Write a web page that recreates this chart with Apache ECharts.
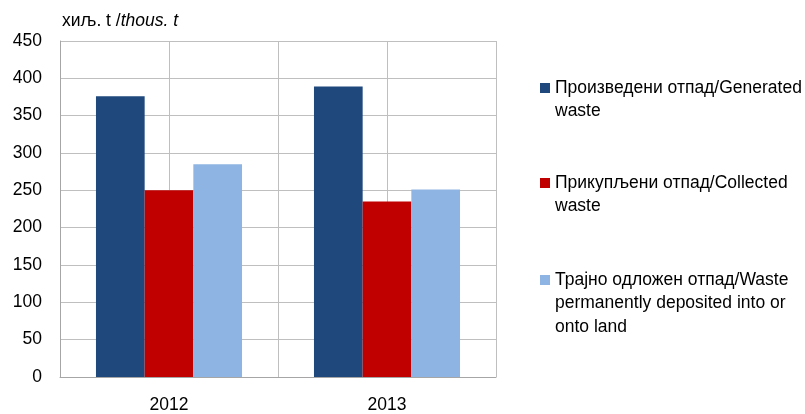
<!DOCTYPE html>
<html><head><meta charset="utf-8">
<script src="https://cdn.jsdelivr.net/npm/echarts@6/dist/echarts.min.js"></script>
<style>html,body{margin:0;padding:0;background:#fff}#c{width:805px;height:414px}</style>
</head><body><div id="c"></div>
<script>
const categories = ['2012', '2013'];
const seriesNames = ['Произведени отпад/Generated\nwaste', 'Прикупљени отпад/Collected\nwaste', 'Трајно одложен отпад/Waste\npermanently deposited into or\nonto land'];
const generated = [376, 389];
const collected = [250, 235];
const deposited = [285, 251];
const colors = ['#1F497D', '#C00000', '#8EB4E3'];
const values = [generated, collected, deposited];
const yTicks = { min: 0, max: 450, interval: 50 };

const chart = echarts.init(document.getElementById('c'));
const font = 'Liberation Sans, Arial, sans-serif';
const fs = 17.5;
const lh = 23.5;
const legendCenters = [88, 183, 280];
const legendTextX = 555;
const legends = seriesNames.map((n, i) => ({
  data: [n], orient: 'vertical', left: 540, top: legendCenters[i] - 10, padding: 0,
  itemWidth: 10, itemHeight: 10, itemGap: 0,
  icon: 'rect', selectedMode: false,
  formatter: name => name.split('\n')[0],
  textStyle: { fontFamily: font, fontSize: fs, color: '#000', lineHeight: 20 }
}));
const graphics = [];
seriesNames.forEach((n, i) => {
  n.split('\n').slice(1).forEach((line, k) => {
    graphics.push({ type: 'text', left: legendTextX, top: legendCenters[i] + lh * (k + 1) - 10,
      style: { text: line, fontFamily: font, fontSize: fs, fill: '#000', lineHeight: 20 } });
  });
});
chart.setOption({
  animation: false,
  textStyle: { fontFamily: font },
  title: {
    left: 62, top: 12, padding: 0,
    text: '{a|хиљ. t /}{b|thous. t}',
    textStyle: { fontWeight: 'normal', rich: {
      a: { fontFamily: font, fontSize: fs, color: '#000', fontWeight: 'normal' },
      b: { fontFamily: font, fontSize: fs, color: '#000', fontStyle: 'italic', fontWeight: 'normal' }
    } }
  },
  legend: legends,
  graphic: graphics,
  grid: { left: 60, right: 309, top: 41, bottom: 34 },
  xAxis: [
    { type: 'category', data: categories,
      axisLine: { lineStyle: { color: '#a6a6a6', width: 1 } },
      axisTick: { show: false },
      axisLabel: { fontFamily: font, fontSize: fs, color: '#000', margin: 19 },
      splitLine: { show: false } },
    { type: 'value', min: 0, max: 4, interval: 1, position: 'bottom',
      axisLine: { show: false }, axisTick: { show: false }, axisLabel: { show: false },
      splitLine: { show: true, lineStyle: { color: '#bfbfbf', width: 1 } } }
  ],
  yAxis: {
    type: 'value', min: yTicks.min, max: yTicks.max, interval: yTicks.interval,
    axisLine: { show: true, lineStyle: { color: '#a6a6a6', width: 1 } },
    axisTick: { show: false },
    axisLabel: { fontFamily: font, fontSize: fs, color: '#000', margin: 18 },
    splitLine: { lineStyle: { color: '#bfbfbf', width: 1 } }
  },
  series: seriesNames.map((n, i) => ({
    name: n, type: 'bar', xAxisIndex: 0, data: values[i],
    itemStyle: { color: colors[i] },
    barGap: '0%', barCategoryGap: '33%'
  }))
});
</script></body></html>
